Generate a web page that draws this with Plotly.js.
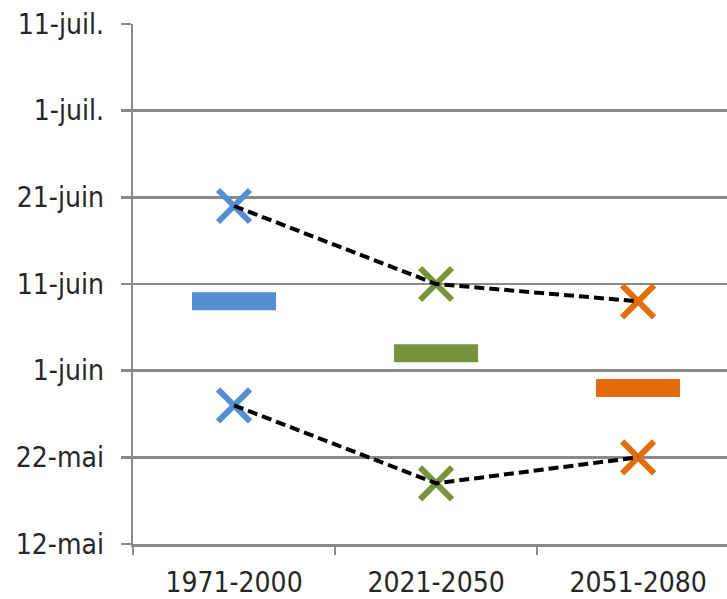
<!DOCTYPE html>
<html>
<head>
<meta charset="utf-8">
<script src="https://cdn.plot.ly/plotly-3.0.1.min.js"></script>
<style>
  html, body { margin: 0; padding: 0; background: #fff; }
  #chart { width: 727px; height: 599px; }
</style>
</head>
<body>
<div id="chart"></div>
<script>
// Periods compared
const periods = ['1971-2000', '2021-2050', '2051-2080'];
// Late date of each period
const lateDates = ['2000-06-20', '2000-06-11', '2000-06-09'];
// Mean date of each period
const meanDates = ['2000-06-09', '2000-06-03', '2000-05-30'];
// Early date of each period
const earlyDates = ['2000-05-28', '2000-05-19', '2000-05-22'];
// Period colours
const periodColors = ['#558ED5', '#77933C', '#E46C0A'];
// Y axis ticks
const tickDates = ['2000-05-12', '2000-05-22', '2000-06-01', '2000-06-11', '2000-06-21', '2000-07-01', '2000-07-11'];
const tickLabels = ['12-mai', '22-mai', '1-juin', '11-juin', '21-juin', '1-juil.', '11-juil.'];

const gridGrey = '#8a8a8a';
const textColor = '#262626';
const labelFont = { family: '"DejaVu Sans Condensed", "DejaVu Sans", sans-serif', size: 28, color: textColor };

const xMarker = {
  symbol: 'x-thin',
  size: 32,
  color: periodColors,
  line: { color: periodColors, width: 6 }
};

const traces = [
  {
    x: periods, y: meanDates, type: 'scatter', mode: 'markers',
    marker: { symbol: 'line-ew', size: 60, color: periodColors,
              line: { color: periodColors, width: 18 } },
    hoverinfo: 'x+y'
  },
  {
    x: periods, y: lateDates, type: 'scatter', mode: 'markers',
    marker: xMarker, hoverinfo: 'x+y'
  },
  {
    x: periods, y: earlyDates, type: 'scatter', mode: 'markers',
    marker: xMarker, hoverinfo: 'x+y'
  },
  {
    x: periods, y: lateDates, type: 'scatter', mode: 'lines',
    line: { color: '#000000', width: 4, dash: '10px,5px' }, hoverinfo: 'skip'
  },
  {
    x: periods, y: earlyDates, type: 'scatter', mode: 'lines',
    line: { color: '#000000', width: 4, dash: '10px,5px' }, hoverinfo: 'skip'
  }
];

const layout = {
  width: 727,
  height: 599,
  margin: { l: 133, r: 0, t: 24, b: 55 },
  paper_bgcolor: '#ffffff',
  plot_bgcolor: '#ffffff',
  showlegend: false,
  font: labelFont,
  xaxis: {
    type: 'category',
    range: [-0.5, 2.44],
    showgrid: false,
    zeroline: false,
    showline: true,
    linecolor: gridGrey,
    linewidth: 2.5,
    ticks: 'outside',
    tickson: 'boundaries',
    ticklen: 8,
    tickwidth: 2.5,
    tickcolor: gridGrey,
    ticklabelstandoff: 12,
    tickfont: labelFont
  },
  yaxis: {
    type: 'date',
    range: ['2000-05-12', '2000-07-11'],
    tickmode: 'array',
    tickvals: tickDates,
    ticktext: tickLabels,
    showgrid: true,
    gridcolor: gridGrey,
    gridwidth: 2.5,
    zeroline: false,
    showline: true,
    linecolor: gridGrey,
    linewidth: 2.5,
    ticks: 'outside',
    ticklen: 10,
    tickwidth: 2.5,
    tickcolor: gridGrey,
    ticklabelstandoff: 11,
    tickfont: labelFont
  }
};

Plotly.newPlot('chart', traces, layout, { staticPlot: true, displayModeBar: false });
</script>
</body>
</html>
